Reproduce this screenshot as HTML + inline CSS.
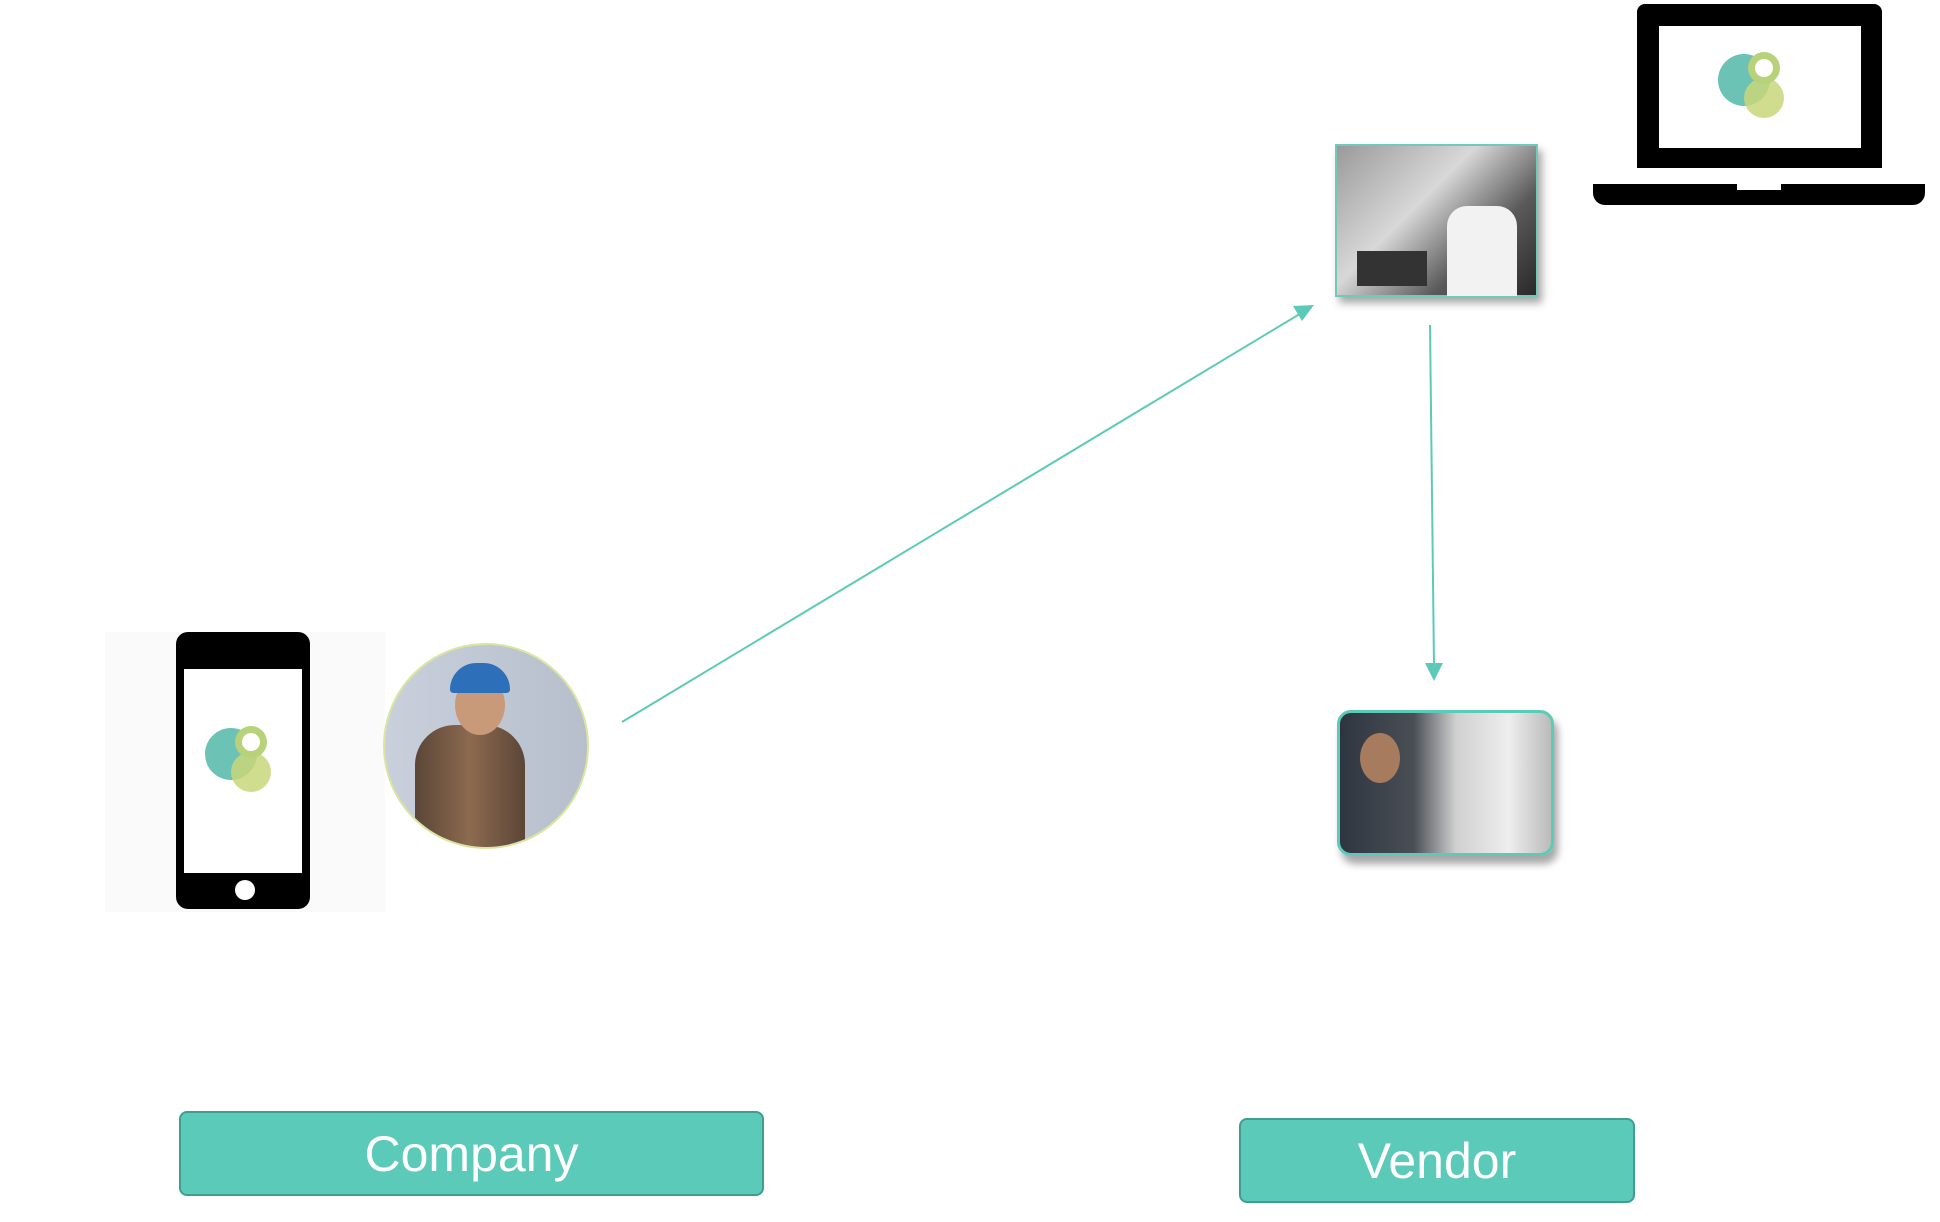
<!DOCTYPE html>
<html><head><meta charset="utf-8"><style>
html,body{margin:0;padding:0;background:#fff;width:1940px;height:1222px;overflow:hidden;position:relative;font-family:"Liberation Sans",sans-serif}
.abs{position:absolute}
.btn{position:absolute;background:#5ccab9;border:2px solid #3f9e90;border-radius:8px;color:#fff;display:flex;align-items:center;justify-content:center;font-size:50px;box-sizing:border-box}
</style></head><body>
<!-- phone -->
<div class="abs" style="left:105px;top:632px;width:280px;height:280px;background:#fafafa"></div>
<div class="abs" style="left:176px;top:632px;width:134px;height:277px;background:#000;border-radius:12px"></div>
<div class="abs" style="left:184px;top:669px;width:118px;height:204px;background:#fff"></div>
<div class="abs" style="left:235px;top:880px;width:20px;height:20px;background:#fff;border-radius:50%"></div>
<svg class="abs" style="left:199px;top:718px" width="80" height="80"><circle cx="32" cy="36" r="26" fill="#6cc3b5"/><circle cx="52" cy="54" r="20" fill="#c9d77a" opacity="0.85"/><circle cx="52" cy="24" r="16" fill="#b8d27a"/><circle cx="52" cy="24" r="9" fill="#fff"/></svg>
<!-- worker circle -->
<div class="abs" style="left:383px;top:643px;width:206px;height:206px;border-radius:50%;border:2px solid #d9e6a0;box-sizing:border-box;overflow:hidden;background:linear-gradient(90deg,#c9d0dc,#b7bfcc)">
 <div class="abs" style="left:30px;top:80px;width:110px;height:140px;background:linear-gradient(90deg,#5b4637,#8c6a4f,#5b4637);border-radius:40px 40px 0 0"></div>
 <div class="abs" style="left:70px;top:30px;width:50px;height:60px;background:#c99a7a;border-radius:50%"></div>
 <div class="abs" style="left:65px;top:18px;width:60px;height:30px;background:#2d6fb8;border-radius:30px 30px 4px 4px"></div>
</div>
<!-- laptop -->
<div class="abs" style="left:1637px;top:4px;width:245px;height:164px;background:#000;border-radius:8px 8px 0 0"></div>
<div class="abs" style="left:1659px;top:26px;width:202px;height:122px;background:#fff"></div>
<div class="abs" style="left:1593px;top:184px;width:332px;height:21px;background:#000;border-radius:0 0 12px 12px"></div>
<div class="abs" style="left:1737px;top:184px;width:44px;height:6px;background:#fff"></div>
<svg class="abs" style="left:1712px;top:44px" width="80" height="80"><circle cx="32" cy="36" r="26" fill="#6cc3b5"/><circle cx="52" cy="54" r="20" fill="#c9d77a" opacity="0.85"/><circle cx="52" cy="24" r="16" fill="#b8d27a"/><circle cx="52" cy="24" r="9" fill="#fff"/></svg>
<!-- office photo -->
<div class="abs" style="left:1335px;top:144px;width:203px;height:153px;border:2px solid #6fcabb;box-sizing:border-box;box-shadow:4px 6px 8px rgba(0,0,0,.35);background:linear-gradient(135deg,#9a9a9a,#d8d8d8 40%,#5a5a5a 70%,#2a2a2a)">
 <div class="abs" style="left:110px;top:60px;width:70px;height:90px;background:#f2f2f2;border-radius:20px 20px 0 0"></div>
 <div class="abs" style="left:20px;top:105px;width:70px;height:35px;background:#333"></div>
</div>
<!-- truck photo -->
<div class="abs" style="left:1337px;top:710px;width:217px;height:146px;border:3px solid #5ccab9;border-radius:14px;box-sizing:border-box;overflow:hidden;box-shadow:4px 8px 8px rgba(0,0,0,.35);background:linear-gradient(90deg,#2f3540 0%,#4a4f55 35%,#d0d0d0 55%,#eee 80%,#bbb)">
 <div class="abs" style="left:20px;top:20px;width:40px;height:50px;background:#a67b5e;border-radius:50%"></div>
</div>
<!-- connectors -->
<svg class="abs" style="left:0;top:0" width="1940" height="1222">
 <line x1="622" y1="722" x2="1303" y2="312" stroke="#5ccab9" stroke-width="2"/>
 <polygon points="1314,305 1293,306 1302,321" fill="#5ccab9"/>
 <line x1="1430" y1="325" x2="1434" y2="666" stroke="#5ccab9" stroke-width="2"/>
 <polygon points="1434,681 1425,663 1443,663" fill="#5ccab9"/>
</svg>
<div class="btn" style="left:179px;top:1111px;width:585px;height:85px">Company</div>
<div class="btn" style="left:1239px;top:1118px;width:396px;height:85px">Vendor</div>
</body></html>
